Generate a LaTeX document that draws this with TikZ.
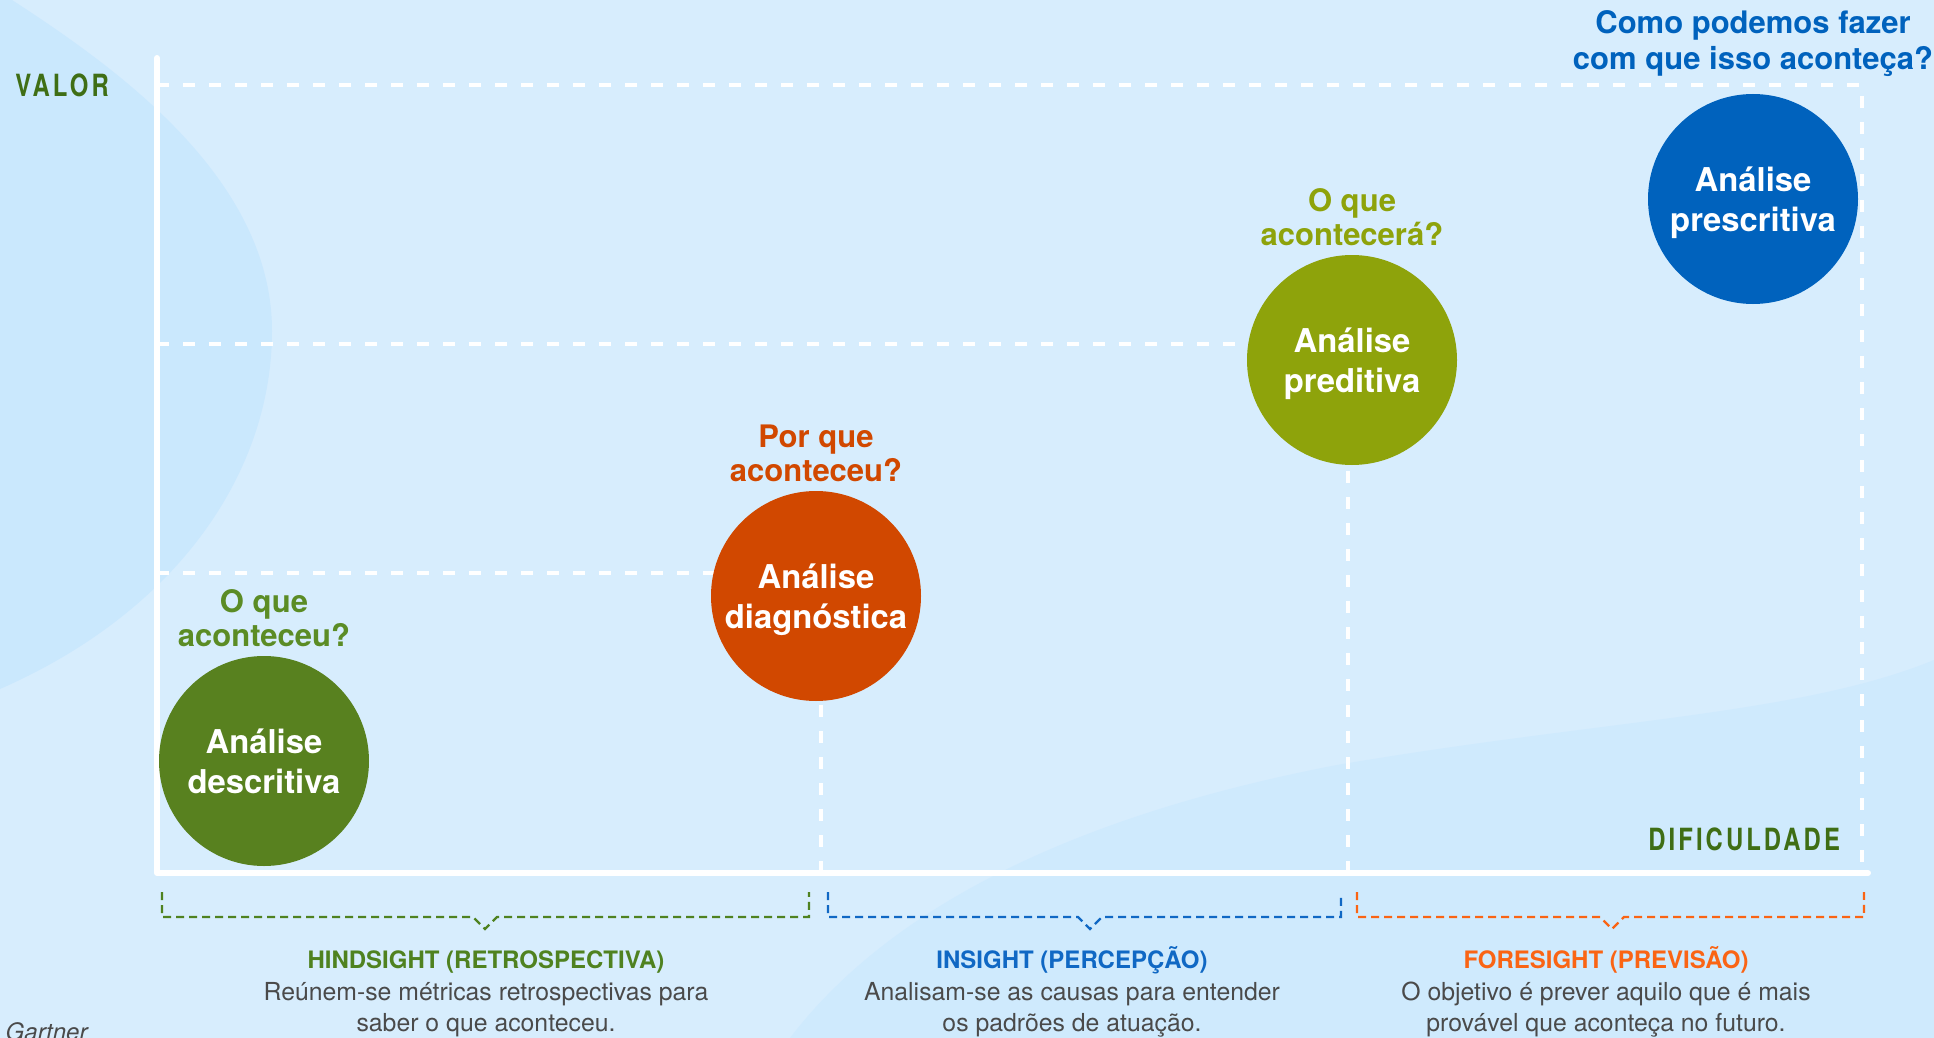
\documentclass[tikz,border=0pt]{standalone}
\usepackage{fontspec}
\setmainfont{TeX Gyre Heros}
\newfontfamily\axisfont[FakeStretch=0.78,LetterSpace=10]{TeX Gyre Heros}
\usetikzlibrary{positioning}
\definecolor{bgblue}{HTML}{D7EDFD}
\definecolor{blobblue}{HTML}{CAE8FD}
\definecolor{waveblue}{HTML}{CFEAFD}
\definecolor{axisgreen}{HTML}{3F6E15}
\definecolor{descgreen}{HTML}{58811F}
\definecolor{askgreen}{HTML}{5B8C25}
\definecolor{hindgreen}{HTML}{4F8220}
\definecolor{diagred}{HTML}{D14800}
\definecolor{predolive}{HTML}{8EA30B}
\definecolor{presblue}{HTML}{0062BD}
\definecolor{insblue}{HTML}{1068C4}
\definecolor{foreorange}{HTML}{FA6414}
\definecolor{bodygray}{HTML}{4A4A4A}

\begin{document}
\begin{tikzpicture}[line cap=round,line join=round,x=0.5pt,y=-0.5pt,
  ball/.style={circle,inner sep=0pt,minimum size=105pt,text=white,align=center,text depth=0pt,font=\bfseries\fontsize{16.4}{20}\selectfont},
  ask/.style={inner sep=0pt,align=center,text depth=0pt,font=\bfseries\fontsize{15.5}{17}\selectfont},
  guide/.style={white,line width=2.3pt,dash pattern=on 6pt off 7pt,line cap=butt},
  axisline/.style={white,line width=3pt},
  brace/.style={line width=1.1pt,dash pattern=on 4pt off 2.5pt,line cap=butt,line join=miter},
  axislabel/.style={inner sep=0pt,text=axisgreen,font=\axisfont\bfseries\fontsize{15.3}{18}\selectfont},
  phase/.style={inner sep=0pt,anchor=base,font=\bfseries\fontsize{12}{15}\selectfont},
  blurb/.style={inner sep=0pt,anchor=base,align=center,text=bodygray,font=\fontsize{12.4}{15.5}\selectfont}]
\useasboundingbox (0,0) rectangle (1934,1038);
% background
\fill[bgblue] (0,0) rectangle (1934,1038);
\fill[blobblue] (12,0) .. controls (120,70) and (272,180) .. (272,331) .. controls (272,470) and (180,610) .. (0,689) -- (0,0) -- cycle;
\fill[waveblue] (790,1038) .. controls (880,920) and (1050,820) .. (1337,765) .. controls (1600,720) and (1800,715) .. (1934,660) -- (1934,1038) -- cycle;
% points
\coordinate (o) at (157,873);
\coordinate (ytop) at (157,58);
\coordinate (xend) at (1868,873);
\coordinate (v1) at (157,573);
\coordinate (v2) at (157,344);
\coordinate (v3) at (157,85);
\coordinate (h1) at (821,873);
\coordinate (h2) at (1348,873);
\coordinate (h3) at (1862,873);
\coordinate (c1) at (264,761);
\coordinate (c2) at (816,596);
\coordinate (c3) at (1352,360);
\coordinate (c4) at (1753,199);
% guide lines
\draw[guide] (v3) -- (v3 -| h3) -- (h3);
\draw[guide] (v2) -- (v2 -| c3);
\draw[guide] (v1) -- (v1 -| c2);
\draw[guide] (h1) -- (h1 |- c2);
\draw[guide] (h2) -- (h2 |- c3);
\draw[axisline] (ytop) -- (o) -- (xend);
\node[axislabel,anchor=base west] (valor) at (15,97) {VALOR};
\node[axislabel,anchor=base west] (dific) at (1648,850) {DIFICULDADE};
% circles
\node[ball,fill=descgreen] (desc) at (c1) {Análise\\descritiva};
\node[ball,fill=diagred] (diag) at (c2) {Análise\\diagnóstica};
\node[ball,fill=predolive] (pred) at (c3) {Análise\\preditiva};
\node[ball,fill=presblue] (pres) at (c4) {Análise\\prescritiva};
\node[ask,text=askgreen,above=4.5pt of desc] (qdesc) {O que\\aconteceu?};
\node[ask,text=diagred,above=4.5pt of diag] (qdiag) {Por que\\aconteceu?};
\node[ask,text=predolive,above=4.5pt of pred] (qpred) {O que\\acontecerá?};
\node[ask,text=presblue,above=12pt of pres,font=\bfseries\fontsize{15.5}{17.8}\selectfont] (qpres) {Como podemos fazer\\com que isso aconteça?};
% braces
\draw[brace,hindgreen] (162,892) -- (162,917) -- (473,917) -- (485,929) -- (497,917) -- (809,917) -- (809,892);
\draw[brace,insblue] (828,892) -- (828,917) -- (1078,917) -- (1090,929) -- (1102,917) -- (1341,917) -- (1341,897);
\draw[brace,foreorange] (1357,892) -- (1357,917) -- (1600,917) -- (1612,929) -- (1624,917) -- (1864,917) -- (1864,892);
% phases
\node[phase,text=hindgreen] (hind) at (486,968) {HINDSIGHT (RETROSPECTIVA)};
\node[blurb] (hindtxt) at (486,1031) {Reúnem-se métricas retrospectivas para\\saber o que aconteceu.};
\node[phase,text=insblue] (ins) at (1072,968) {INSIGHT (PERCEPÇÃO)};
\node[blurb] (instxt) at (1072,1031) {Analisam-se as causas para entender\\os padrões de atuação.};
\node[phase,text=foreorange] (fore) at (1606,968) {FORESIGHT (PREVISÃO)};
\node[blurb] (foretxt) at (1606,1031) {O objetivo é prever aquilo que é mais\\provável que aconteça no futuro.};
\node[anchor=base east,inner sep=0pt,text=bodygray,font=\itshape\fontsize{12}{14}\selectfont] (src) at (88,1040) {Fonte: Gartner};
\end{tikzpicture}
\end{document}
